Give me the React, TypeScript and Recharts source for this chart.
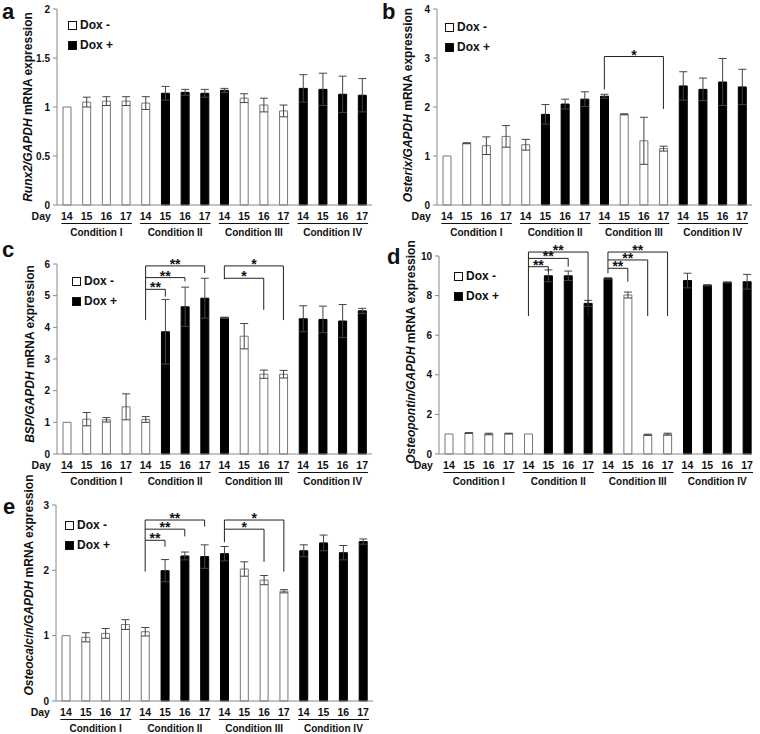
import React from 'react';
import { BarChart, Bar, Cell, XAxis, YAxis, ErrorBar, ReferenceLine, Legend } from 'recharts';

const FONT = '"Liberation Sans", Arial, Helvetica, sans-serif';

// categories
const conditionNames = ['I', 'II', 'III', 'IV'];
const dayNames = [14, 15, 16, 17];
// 1 = Dox +, 0 = Dox -
const doxPlus = [0, 0, 0, 0, 0, 1, 1, 1, 1, 0, 0, 0, 1, 1, 1, 1];
const legendItems = [
  { name: 'Dox -', color: '#fff' },
  { name: 'Dox +', color: '#000' },
];

// a: Runx2
const runx2Mean = [1.0, 1.05, 1.06, 1.06, 1.04, 1.14, 1.15, 1.14, 1.17, 1.09, 1.02, 0.96, 1.19, 1.18, 1.13, 1.12];
const runx2Err = [0, 0.05, 0.045, 0.045, 0.065, 0.07, 0.03, 0.04, 0.02, 0.045, 0.07, 0.06, 0.14, 0.165, 0.185, 0.17];
const runx2Ticks = [0, 0.5, 1, 1.5, 2];

// b: Osterix
const osterixMean = [1.0, 1.26, 1.21, 1.4, 1.23, 1.85, 2.06, 2.16, 2.22, 1.85, 1.31, 1.15, 2.43, 2.36, 2.51, 2.41];
const osterixErr = [0, 0.01, 0.18, 0.22, 0.11, 0.2, 0.1, 0.15, 0.04, 0.01, 0.48, 0.05, 0.29, 0.23, 0.48, 0.36];
const osterixTicks = [0, 1, 2, 3, 4];

// c: BSP
const bspMean = [1.0, 1.1, 1.08, 1.49, 1.09, 3.86, 4.65, 4.92, 4.3, 3.72, 2.52, 2.52, 4.27, 4.25, 4.2, 4.52];
const bspErr = [0, 0.21, 0.07, 0.41, 0.09, 1.02, 0.62, 0.63, 0.02, 0.4, 0.13, 0.12, 0.41, 0.42, 0.52, 0.08];
const bspTicks = [0, 1, 2, 3, 4, 5, 6];

// d: Osteopontin
const opnMean = [1.01, 1.06, 1.01, 1.03, 1.01, 9.0, 9.0, 7.61, 8.87, 8.03, 0.97, 1.0, 8.76, 8.52, 8.67, 8.7];
const opnErr = [0, 0.02, 0.04, 0.02, 0, 0.3, 0.24, 0.15, 0.03, 0.15, 0.03, 0.05, 0.37, 0.03, 0.02, 0.37];
const opnTicks = [0, 2, 4, 6, 8, 10];

// e: Osteocalcin
const ocnMean = [1.0, 0.975, 1.035, 1.17, 1.06, 1.995, 2.22, 2.21, 2.255, 2.02, 1.85, 1.68, 2.3, 2.42, 2.27, 2.44];
const ocnErr = [0, 0.07, 0.075, 0.075, 0.065, 0.17, 0.06, 0.18, 0.11, 0.11, 0.07, 0.025, 0.09, 0.12, 0.11, 0.04];
const ocnTicks = [0, 1, 2, 3];

// significance brackets: stem = left leg, bracket = top line + right leg
const osterixStems = [{ at: 'III14', low: 2.36, high: 3.03 }];
const osterixBrackets = [{ from: 'III14', to: 'III17', top: 3.03, drop: 1.96, mark: '*' }];

const bspStems = [
  { at: 'II14', low: 4.23, high: 5.94 },
  { at: 'III14', low: 5.52, high: 5.94 },
];
const bspBrackets = [
  { from: 'II14', to: 'II17', top: 5.94, drop: 5.71, mark: '**' },
  { from: 'II14', to: 'II16', top: 5.57, drop: 5.45, mark: '**' },
  { from: 'II14', to: 'II15', top: 5.2, drop: 4.97, mark: '**' },
  { from: 'III14', to: 'III17', top: 5.94, drop: 4.23, mark: '*' },
  { from: 'III14', to: 'III16', top: 5.55, drop: 4.55, mark: '*' },
];

const opnStems = [
  { at: 'II14', low: 6.97, high: 10.2 },
  { at: 'III14', low: 9.13, high: 10.2 },
];
const opnBrackets = [
  { from: 'II14', to: 'II17', top: 10.2, drop: 6.97, mark: '**' },
  { from: 'II14', to: 'II16', top: 9.88, drop: 9.46, mark: '**' },
  { from: 'II14', to: 'II15', top: 9.46, drop: 9.2, mark: '**' },
  { from: 'III14', to: 'III17', top: 10.2, drop: 6.97, mark: '**' },
  { from: 'III14', to: 'III16', top: 9.8, drop: 6.97, mark: '**' },
  { from: 'III14', to: 'III15', top: 9.38, drop: 8.7, mark: '**' },
];

const ocnStems = [
  { at: 'II14', low: 1.98, high: 2.77 },
  { at: 'III14', low: 2.43, high: 2.77 },
];
const ocnBrackets = [
  { from: 'II14', to: 'II17', top: 2.77, drop: 2.67, mark: '**' },
  { from: 'II14', to: 'II16', top: 2.63, drop: 2.52, mark: '**' },
  { from: 'II14', to: 'II15', top: 2.46, drop: 2.36, mark: '**' },
  { from: 'III14', to: 'III17', top: 2.77, drop: 1.98, mark: '*' },
  { from: 'III14', to: 'III16', top: 2.63, drop: 2.13, mark: '*' },
];

const ids = conditionNames.flatMap((c) => dayNames.map((d) => c + d));

function buildRows(mean: number[], err: number[]) {
  return ids.map((id, i) => ({
    id,
    day: dayNames[i % 4],
    cond: conditionNames[Math.floor(i / 4)],
    dox: doxPlus[i],
    value: mean[i],
    err: err[i],
  }));
}

function DayTick(props: any) {
  const { x, y, index, bw, rows } = props;
  const row = rows[index];
  const lineY = y + 18.5;
  return (
    <g fontFamily={FONT} fontWeight="bold" fill="#111">
      <text x={x} y={y + 15} textAnchor="middle" fontSize={10.5}>{row.day}</text>
      {index === 0 && (
        <text x={x - 16} y={y + 15} textAnchor="end" fontSize={10.5}>Day</text>
      )}
      {index % 4 === 0 && (
        <g>
          <line x1={x - bw * 0.28} x2={x + bw * 3.3} y1={lineY} y2={lineY} stroke="#111" strokeWidth={1} />
          <text x={x + bw * 1.5} y={lineY + 12.5} textAnchor="middle" fontSize={10}>
            Condition {row.cond}
          </text>
        </g>
      )}
    </g>
  );
}

function YTitle(props: any) {
  const vb = props.viewBox || { x: 0, y: 0, width: 0, height: 0 };
  const x = vb.x + props.cx;
  const y = vb.y + vb.height / 2 + props.dy;
  return (
    <text
      x={x}
      y={y}
      transform={`rotate(-90 ${x} ${y})`}
      textAnchor="middle"
      dominantBaseline="central"
      fontFamily={FONT}
      fontSize={12}
      fontWeight="bold"
      fill="#111"
    >
      <tspan fontStyle="italic">{props.gene}/GAPDH</tspan>
      <tspan> mRNA expression</tspan>
    </text>
  );
}

function DoxKey() {
  return (
    <div style={{ fontFamily: FONT, fontWeight: 'bold', fontSize: 12, color: '#111' }}>
      {legendItems.map((it) => (
        <div key={it.name} style={{ display: 'flex', alignItems: 'center', height: 20 }}>
          <span
            style={{
              display: 'inline-block',
              width: 7,
              height: 7,
              border: '1px solid #111',
              background: it.color,
              marginRight: 3,
            }}
          />
          <span>{it.name}</span>
        </div>
      ))}
    </div>
  );
}

function Panel({ cfg }: { cfg: any }) {
  const rows = buildRows(cfg.mean, cfg.err);
  const plotW = cfg.width - cfg.margin.left - cfg.margin.right - cfg.yAxisWidth;
  const bw = (plotW - cfg.padL - cfg.padR) / rows.length;
  const lineStyle = { stroke: '#222', strokeWidth: 1, ifOverflow: 'visible' as const };
  return (
    <div style={{ position: 'absolute', left: cfg.left, top: cfg.top, width: cfg.width, height: cfg.height }}>
      <BarChart width={cfg.width} height={cfg.height} data={rows} margin={cfg.margin} barSize={8}>
        <XAxis
          dataKey="id"
          interval={0}
          height={30}
          tickLine={false}
          tickSize={0}
          tickMargin={0}
          axisLine={{ stroke: '#888' }}
          padding={{ left: cfg.padL, right: cfg.padR }}
          tick={(p: any) => <DayTick {...p} bw={bw} rows={rows} />}
        />
        <YAxis
          width={cfg.yAxisWidth}
          domain={[0, cfg.ticks[cfg.ticks.length - 1]]}
          ticks={cfg.ticks}
          interval={0}
          tickSize={4}
          tickMargin={3}
          axisLine={{ stroke: '#888' }}
          tickLine={{ stroke: '#888' }}
          tick={{ fill: '#111', fontSize: 10, fontWeight: 'bold', fontFamily: FONT }}
          label={<YTitle gene={cfg.gene} cx={cfg.titleX} dy={cfg.titleDy} />}
        />
        <Legend
          layout="vertical"
          align="center"
          verticalAlign="middle"
          wrapperStyle={{ left: cfg.legend[0], top: cfg.legend[1], width: 'auto' }}
          content={() => <DoxKey />}
        />
        <Bar dataKey="value" isAnimationActive={false}>
          {rows.map((r) => (
            <Cell key={r.id} fill={r.dox ? '#000' : '#fff'} stroke={r.dox ? '#000' : '#777'} strokeWidth={1} />
          ))}
          <ErrorBar dataKey="err" width={4} stroke="#444" strokeWidth={1} direction="y" isAnimationActive={false} />
        </Bar>
        {cfg.stems.map((s: any, i: number) => (
          <ReferenceLine
            key={'s' + i}
            segment={[{ x: s.at, y: s.high }, { x: s.at, y: s.low }]}
            {...lineStyle}
          />
        ))}
        {cfg.brackets.map((b: any, i: number) => (
          <ReferenceLine
            key={'h' + i}
            segment={[{ x: b.from, y: b.top }, { x: b.to, y: b.top }]}
            {...lineStyle}
            label={{ value: b.mark, position: 'top', offset: -3, fill: '#111', fontSize: 14, fontWeight: 'bold', fontFamily: FONT }}
          />
        ))}
        {cfg.brackets.map((b: any, i: number) => (
          <ReferenceLine
            key={'v' + i}
            segment={[{ x: b.to, y: b.top }, { x: b.to, y: b.drop }]}
            {...lineStyle}
          />
        ))}
      </BarChart>
      <div
        style={{
          position: 'absolute',
          left: cfg.letter[1],
          top: cfg.letter[2] - 18.6,
          fontFamily: FONT,
          fontWeight: 'bold',
          fontSize: 22,
          lineHeight: '22px',
          color: '#111',
        }}
      >
        {cfg.letter[0]}
      </div>
    </div>
  );
}

const panels = [
  {
    letter: ['a', 2, 20], gene: 'Runx2', mean: runx2Mean, err: runx2Err, ticks: runx2Ticks,
    left: 0, top: 0, width: 380, height: 240, margin: { top: 9, right: 8, bottom: 5, left: 0 },
    yAxisWidth: 57, padL: 0, padR: 0, titleX: 28, titleDy: 0, legend: [68, 15],
    stems: [], brackets: [],
  },
  {
    letter: ['b', 2, 20], gene: 'Osterix', mean: osterixMean, err: osterixErr, ticks: osterixTicks,
    left: 380, top: 0, width: 380, height: 240, margin: { top: 9, right: 8, bottom: 5, left: 0 },
    yAxisWidth: 57, padL: 0, padR: 0, titleX: 28, titleDy: -2, legend: [65, 17],
    stems: osterixStems, brackets: osterixBrackets,
  },
  {
    letter: ['c', 2, 18], gene: 'BSP', mean: bspMean, err: bspErr, ticks: bspTicks,
    left: 0, top: 240, width: 380, height: 250, margin: { top: 24, right: 8, bottom: 6, left: 0 },
    yAxisWidth: 57, padL: 0, padR: 0, titleX: 30, titleDy: -5, legend: [72, 31],
    stems: bspStems, brackets: bspBrackets,
  },
  {
    letter: ['d', 7, 25], gene: 'Osteopontin', mean: opnMean, err: opnErr, ticks: opnTicks,
    left: 380, top: 240, width: 380, height: 250, margin: { top: 16, right: 8, bottom: 6, left: 0 },
    yAxisWidth: 59, padL: 0, padR: -5, titleX: 31, titleDy: -3, legend: [74, 26],
    stems: opnStems, brackets: opnBrackets,
  },
  {
    letter: ['e', 3, 45], gene: 'Osteocalcin', mean: ocnMean, err: ocnErr, ticks: ocnTicks,
    left: 0, top: 470, width: 380, height: 264, margin: { top: 35, right: 7, bottom: 3, left: 0 },
    yAxisWidth: 56, padL: 0, padR: 0, titleX: 29, titleDy: -18, legend: [65, 45],
    stems: ocnStems, brackets: ocnBrackets,
  },
];

export default function App() {
  return (
    <div style={{ position: 'absolute', left: 0, top: 0, width: 760, height: 734, background: '#fff' }}>
      {panels.map((p) => (
        <Panel key={p.letter[0] as string} cfg={p} />
      ))}
    </div>
  );
}
